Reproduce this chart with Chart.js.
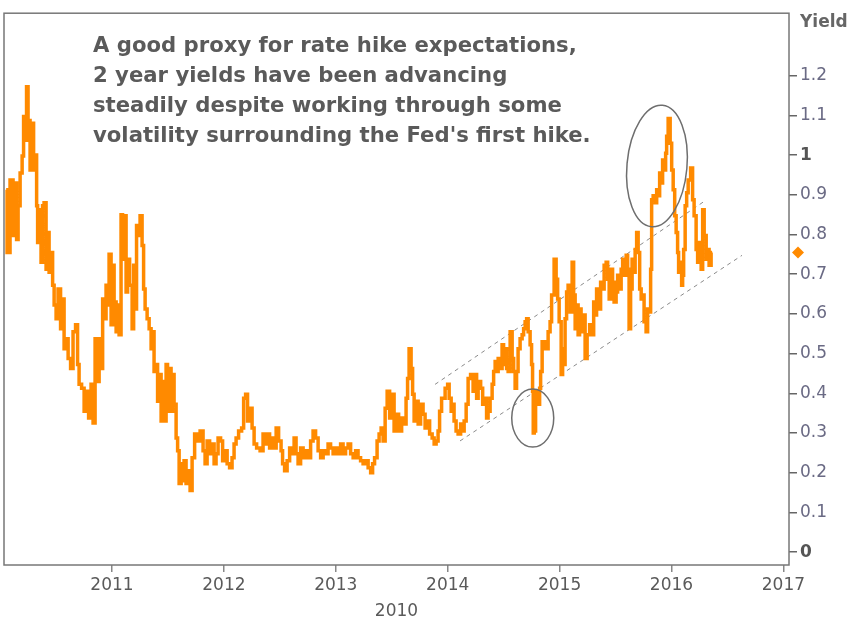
<!DOCTYPE html>
<html>
<head>
<meta charset="utf-8">
<script src="https://cdn.jsdelivr.net/npm/chart.js@4.4.1/dist/chart.umd.min.js"></script>
<style>
  html, body { margin: 0; padding: 0; background: #fff; }
  canvas { display: block; }
</style>
</head>
<body>
<canvas id="chart" width="851" height="622"></canvas>
<script>
// 2 year Treasury yield (decimal years)
const dates = [
  2010.054, 2010.071, 2010.107, 2010.125, 2010.143, 2010.152, 2010.170, 2010.188, 2010.206, 2010.214,
  2010.232, 2010.241, 2010.259, 2010.277, 2010.295, 2010.304, 2010.322, 2010.331, 2010.340, 2010.357,
  2010.375, 2010.384, 2010.402, 2010.420, 2010.429, 2010.447, 2010.465, 2010.474, 2010.492, 2010.509,
  2010.527, 2010.554, 2010.563, 2010.581, 2010.599, 2010.617, 2010.643, 2010.661, 2010.688, 2010.697,
  2010.715, 2010.742, 2010.760, 2010.778, 2010.804, 2010.822, 2010.840, 2010.858, 2010.876, 2010.894,
  2010.912, 2010.921, 2010.938, 2010.956, 2010.965, 2010.983, 2011.001, 2011.010, 2011.028, 2011.046,
  2011.055, 2011.072, 2011.090, 2011.099, 2011.117, 2011.135, 2011.144, 2011.171, 2011.189, 2011.198,
  2011.215, 2011.224, 2011.242, 2011.260, 2011.278, 2011.287, 2011.305, 2011.323, 2011.341, 2011.358,
  2011.367, 2011.385, 2011.403, 2011.412, 2011.430, 2011.448, 2011.457, 2011.475, 2011.492, 2011.501,
  2011.519, 2011.537, 2011.546, 2011.564, 2011.582, 2011.591, 2011.609, 2011.627, 2011.635, 2011.653,
  2011.671, 2011.689, 2011.707, 2011.725, 2011.752, 2011.770, 2011.805, 2011.823, 2011.841, 2011.859,
  2011.886, 2011.904, 2011.921, 2011.939, 2011.957, 2011.984, 2011.993, 2012.020, 2012.038, 2012.064,
  2012.082, 2012.100, 2012.118, 2012.145, 2012.172, 2012.181, 2012.207, 2012.216, 2012.243, 2012.261,
  2012.279, 2012.306, 2012.341, 2012.359, 2012.377, 2012.395, 2012.422, 2012.440, 2012.458, 2012.476,
  2012.502, 2012.520, 2012.529, 2012.556, 2012.574, 2012.601, 2012.619, 2012.636, 2012.654, 2012.672,
  2012.699, 2012.717, 2012.744, 2012.762, 2012.788, 2012.806, 2012.833, 2012.851, 2012.878, 2012.896,
  2012.922, 2012.940, 2012.967, 2012.985, 2013.012, 2013.030, 2013.056, 2013.074, 2013.101, 2013.119,
  2013.146, 2013.164, 2013.190, 2013.208, 2013.235, 2013.253, 2013.280, 2013.298, 2013.325, 2013.333,
  2013.360, 2013.378, 2013.396, 2013.414, 2013.432, 2013.450, 2013.468, 2013.494, 2013.512, 2013.530,
  2013.548, 2013.575, 2013.602, 2013.619, 2013.637, 2013.646, 2013.664, 2013.682, 2013.691, 2013.709,
  2013.727, 2013.745, 2013.771, 2013.789, 2013.807, 2013.825, 2013.852, 2013.870, 2013.888, 2013.905,
  2013.923, 2013.932, 2013.959, 2013.995, 2014.004, 2014.022, 2014.040, 2014.048, 2014.066, 2014.084,
  2014.102, 2014.129, 2014.138, 2014.156, 2014.174, 2014.191, 2014.218, 2014.236, 2014.254, 2014.263,
  2014.281, 2014.308, 2014.317, 2014.343, 2014.352, 2014.370, 2014.388, 2014.406, 2014.415, 2014.433,
  2014.442, 2014.460, 2014.477, 2014.495, 2014.504, 2014.522, 2014.531, 2014.549, 2014.567, 2014.585,
  2014.594, 2014.611, 2014.620, 2014.638, 2014.656, 2014.674, 2014.683, 2014.701, 2014.710, 2014.728,
  2014.745, 2014.754, 2014.763, 2014.766, 2014.781, 2014.790, 2014.799, 2014.817, 2014.826, 2014.835,
  2014.853, 2014.862, 2014.880, 2014.889, 2014.906, 2014.924, 2014.933, 2014.942, 2014.960, 2014.978,
  2014.987, 2015.005, 2015.023, 2015.031, 2015.040, 2015.058, 2015.067, 2015.085, 2015.103, 2015.121,
  2015.130, 2015.148, 2015.157, 2015.174, 2015.183, 2015.201, 2015.219, 2015.237, 2015.255, 2015.282,
  2015.300, 2015.309, 2015.326, 2015.335, 2015.353, 2015.380, 2015.389, 2015.407, 2015.425, 2015.434,
  2015.452, 2015.469, 2015.478, 2015.496, 2015.514, 2015.523, 2015.541, 2015.559, 2015.568, 2015.586,
  2015.604, 2015.612, 2015.630, 2015.639, 2015.657, 2015.666, 2015.684, 2015.693, 2015.711, 2015.720,
  2015.738, 2015.746, 2015.764, 2015.782, 2015.791, 2015.809, 2015.818, 2015.827, 2015.845, 2015.863,
  2015.872, 2015.890, 2015.898, 2015.916, 2015.925, 2015.943, 2015.952, 2015.961, 2015.979, 2015.997,
  2016.006, 2016.024, 2016.033, 2016.050, 2016.059, 2016.068, 2016.086, 2016.095, 2016.104, 2016.113,
  2016.131, 2016.140, 2016.158, 2016.184, 2016.193, 2016.211, 2016.229, 2016.238, 2016.256, 2016.274,
  2016.283, 2016.301, 2016.319, 2016.327, 2016.345, 2016.363
];
const yields = [
  0.9125, 0.755, 0.9375, 0.7975, 0.93, 0.7875, 0.8725, 0.955, 0.9975, 1.0975,
  1.0375, 1.1725, 1.0875, 0.9625, 1.08, 0.9625, 1.0, 0.8725, 0.78, 0.8625,
  0.73, 0.8725, 0.88, 0.7125, 0.805, 0.705, 0.755, 0.6725, 0.6225, 0.5875,
  0.6625, 0.5625, 0.6375, 0.5125, 0.5375, 0.4875, 0.4625, 0.555, 0.5725, 0.4725,
  0.4225, 0.4125, 0.355, 0.405, 0.3375, 0.4225, 0.325, 0.5375, 0.43, 0.5375,
  0.4625, 0.6375, 0.5875, 0.6725, 0.6225, 0.75, 0.5725, 0.7225, 0.63, 0.555,
  0.6225, 0.5475, 0.85, 0.7375, 0.8475, 0.655, 0.7375, 0.6725, 0.5625, 0.7225,
  0.6125, 0.8225, 0.7975, 0.8475, 0.7725, 0.6625, 0.6125, 0.5875, 0.5625, 0.5125,
  0.555, 0.455, 0.4725, 0.38, 0.4475, 0.33, 0.43, 0.33, 0.4725, 0.355,
  0.4625, 0.355, 0.4475, 0.3725, 0.2875, 0.255, 0.1725, 0.2225, 0.18, 0.23,
  0.1725, 0.205, 0.155, 0.2375, 0.2975, 0.28, 0.305, 0.255, 0.2225, 0.28,
  0.2475, 0.2725, 0.2225, 0.2475, 0.2875, 0.28, 0.23, 0.255, 0.2225, 0.2125,
  0.2375, 0.2725, 0.2875, 0.305, 0.3125, 0.3875, 0.3975, 0.33, 0.3625, 0.3125,
  0.2725, 0.2625, 0.255, 0.2975, 0.2725, 0.2975, 0.2625, 0.2875, 0.2625, 0.3125,
  0.28, 0.255, 0.2225, 0.205, 0.23, 0.2625, 0.2475, 0.2875, 0.2475, 0.2225,
  0.2625, 0.2375, 0.255, 0.2375, 0.28, 0.305, 0.2875, 0.255, 0.2375, 0.255,
  0.2475, 0.2725, 0.2625, 0.2475, 0.2625, 0.2475, 0.2725, 0.2475, 0.2625, 0.2725,
  0.2475, 0.2375, 0.255, 0.2375, 0.23, 0.2225, 0.23, 0.2125, 0.2, 0.2225,
  0.2375, 0.28, 0.2975, 0.3125, 0.28, 0.3625, 0.405, 0.3375, 0.3975, 0.305,
  0.3475, 0.305, 0.3375, 0.3225, 0.3875, 0.4375, 0.5125, 0.4625, 0.3975, 0.33,
  0.38, 0.3225, 0.3725, 0.3475, 0.3125, 0.33, 0.2975, 0.2875, 0.2725, 0.28,
  0.305, 0.355, 0.3875, 0.4125, 0.4225, 0.3875, 0.355, 0.3725, 0.33, 0.305,
  0.2975, 0.3225, 0.305, 0.33, 0.3725, 0.4375, 0.4475, 0.405, 0.4475, 0.3875,
  0.43, 0.4125, 0.3725, 0.3875, 0.3375, 0.355, 0.3875, 0.4225, 0.455, 0.48,
  0.455, 0.4875, 0.4625, 0.5225, 0.4725, 0.5125, 0.4625, 0.455, 0.555, 0.4875,
  0.455, 0.4125, 0.455, 0.5125, 0.5375, 0.5475, 0.5625, 0.58, 0.5875, 0.555,
  0.5225, 0.4725, 0.405, 0.30, 0.305, 0.3725, 0.405, 0.3725, 0.4125, 0.455,
  0.53, 0.5125, 0.53, 0.5125, 0.555, 0.58, 0.6475, 0.6475, 0.7375, 0.6875,
  0.6375, 0.58, 0.4475, 0.5125, 0.4725, 0.5875, 0.655, 0.6725, 0.605, 0.73,
  0.6475, 0.5625, 0.6225, 0.5475, 0.6125, 0.555, 0.5975, 0.4875, 0.5475, 0.5725,
  0.5475, 0.63, 0.5975, 0.6625, 0.6125, 0.68, 0.6625, 0.7225, 0.73, 0.6875,
  0.6375, 0.7125, 0.68, 0.63, 0.655, 0.6975, 0.6625, 0.7125, 0.7375, 0.6975,
  0.7475, 0.7125, 0.5625, 0.6625, 0.7375, 0.705, 0.7625, 0.805, 0.755, 0.6625,
  0.6375, 0.6475, 0.58, 0.555, 0.6125, 0.605, 0.7125, 0.8875, 0.8975, 0.88,
  0.9125, 0.8975, 0.955, 0.93, 0.9875, 0.9625, 1.005, 1.0475, 1.0925, 1.03,
  0.9625, 0.9125, 0.8475, 0.805, 0.755, 0.705, 0.73, 0.6725, 0.6975, 0.7625,
  0.8725, 0.905, 0.9375, 0.9675, 0.8875, 0.8475, 0.7625, 0.73, 0.78, 0.7125,
  0.8625, 0.7975, 0.7375, 0.7625, 0.7225, 0.755
];

// hand drawn trend channel (start / end)
const channelUpperX = [2013.887, 2016.30];
const channelUpperY = [0.4225, 0.885];
const channelLowerX = [2014.11, 2016.63];
const channelLowerY = [0.28, 0.7475];

const xTicks = [2011, 2012, 2013, 2014, 2015, 2016, 2017];
const yTicks = [0, 0.1, 0.2, 0.3, 0.4, 0.5, 0.6, 0.7, 0.8, 0.9, 1, 1.1, 1.2];

const note = [
  'A good proxy for rate hike expectations,',
  '2 year yields have been advancing',
  'steadily despite working through some',
  "volatility surrounding the Fed's first hike."
];

const FONT = '"DejaVu Sans", Verdana, sans-serif';

const extras = {
  id: 'extras',
  afterDraw(chart) {
    const ctx = chart.ctx;
    const a = chart.chartArea;
    const xs = chart.scales.x, ys = chart.scales.y;
    ctx.save();

    // frame
    ctx.strokeStyle = '#777';
    ctx.lineWidth = 1.5;
    ctx.strokeRect(a.left, a.top, a.right - a.left, a.bottom - a.top);

    // circled events
    ctx.strokeStyle = '#6e6e6e';
    ctx.lineWidth = 1.5;
    ctx.beginPath();
    ctx.ellipse(xs.getPixelForValue(2015.87), ys.getPixelForValue(0.9725), 30, 61, 0.09, 0, Math.PI * 2);
    ctx.stroke();
    ctx.beginPath();
    ctx.ellipse(xs.getPixelForValue(2014.76), ys.getPixelForValue(0.3375), 21, 29, 0, 0, Math.PI * 2);
    ctx.stroke();

    // note text
    ctx.fillStyle = '#5a5a5a';
    ctx.textBaseline = 'alphabetic';
    ctx.textAlign = 'left';
    ctx.font = 'bold 20px ' + FONT;
    const w = ctx.measureText(note[0]).width;
    const size = 20 * 485 / w;
    ctx.font = 'bold ' + size.toFixed(1) + 'px ' + FONT;
    note.forEach((line, i) => ctx.fillText(line, 93, 52 + i * 30));

    // axis caption
    ctx.fillStyle = '#666';
    ctx.font = 'bold 17px ' + FONT;
    ctx.fillText('Yield', 800, 27);

    // last value marker
    const last = yields[yields.length - 1];
    const mx = a.right + 9, my = ys.getPixelForValue(last);
    ctx.fillStyle = '#ff8a00';
    ctx.beginPath();
    ctx.moveTo(mx, my - 6);
    ctx.lineTo(mx + 6, my);
    ctx.lineTo(mx, my + 6);
    ctx.lineTo(mx - 6, my);
    ctx.closePath();
    ctx.fill();
    ctx.restore();
  }
};

const channel = (xsArr, ysArr) => ({
  data: xsArr.map((x, i) => ({ x: x, y: ysArr[i] })),
  borderColor: '#8a8a8a',
  borderWidth: 1,
  borderDash: [4, 4],
  pointRadius: 0,
  fill: false
});

new Chart(document.getElementById('chart'), {
  type: 'line',
  data: {
    datasets: [
      {
        label: 'Yield',
        data: dates.map((d, i) => ({ x: d, y: yields[i] })),
        borderColor: '#ff8a00',
        borderWidth: 3.5,
        borderJoinStyle: 'miter',
        stepped: 'middle',
        pointRadius: 0,
        fill: false
      },
      channel(channelUpperX, channelUpperY),
      channel(channelLowerX, channelLowerY)
    ]
  },
  options: {
    responsive: false,
    animation: false,
    devicePixelRatio: 1,
    layout: { padding: { left: 4, top: 9, right: 0, bottom: 0 } },
    plugins: { legend: { display: false }, tooltip: { enabled: false } },
    scales: {
      x: {
        type: 'linear',
        min: 2010.035,
        max: 2017.05,
        afterFit: s => { s.height = 57; },
        afterBuildTicks: s => { s.ticks = xTicks.map(v => ({ value: v })); },
        grid: { drawOnChartArea: false, tickLength: 7, color: '#888', lineWidth: 1.5 },
        border: { display: false },
        ticks: {
          callback: v => String(v),
          color: '#5a5a5a',
          padding: 3,
          maxRotation: 0,
          font: { family: FONT, size: 17 }
        },
        title: {
          display: true,
          text: '2010',
          color: '#5a5a5a',
          padding: { top: 0, bottom: 0 },
          font: { family: FONT, size: 17 }
        }
      },
      y: {
        position: 'right',
        min: -0.0325,
        max: 1.3575,
        afterFit: s => { s.width = 62; },
        afterBuildTicks: s => { s.ticks = yTicks.map(v => ({ value: v })); },
        grid: { drawOnChartArea: false, tickLength: 8, color: '#666', lineWidth: 1.5 },
        border: { display: false },
        ticks: {
          callback: v => String(Math.round(v * 10) / 10),
          padding: 3,
          color: c => (c.tick.value === 0 || c.tick.value === 1) ? '#555' : '#6a6a84',
          font: c => ({
            family: FONT,
            size: 17,
            weight: (c.tick && (c.tick.value === 0 || c.tick.value === 1)) ? 'bold' : 'normal'
          })
        }
      }
    }
  },
  plugins: [extras]
});
</script>
</body>
</html>
